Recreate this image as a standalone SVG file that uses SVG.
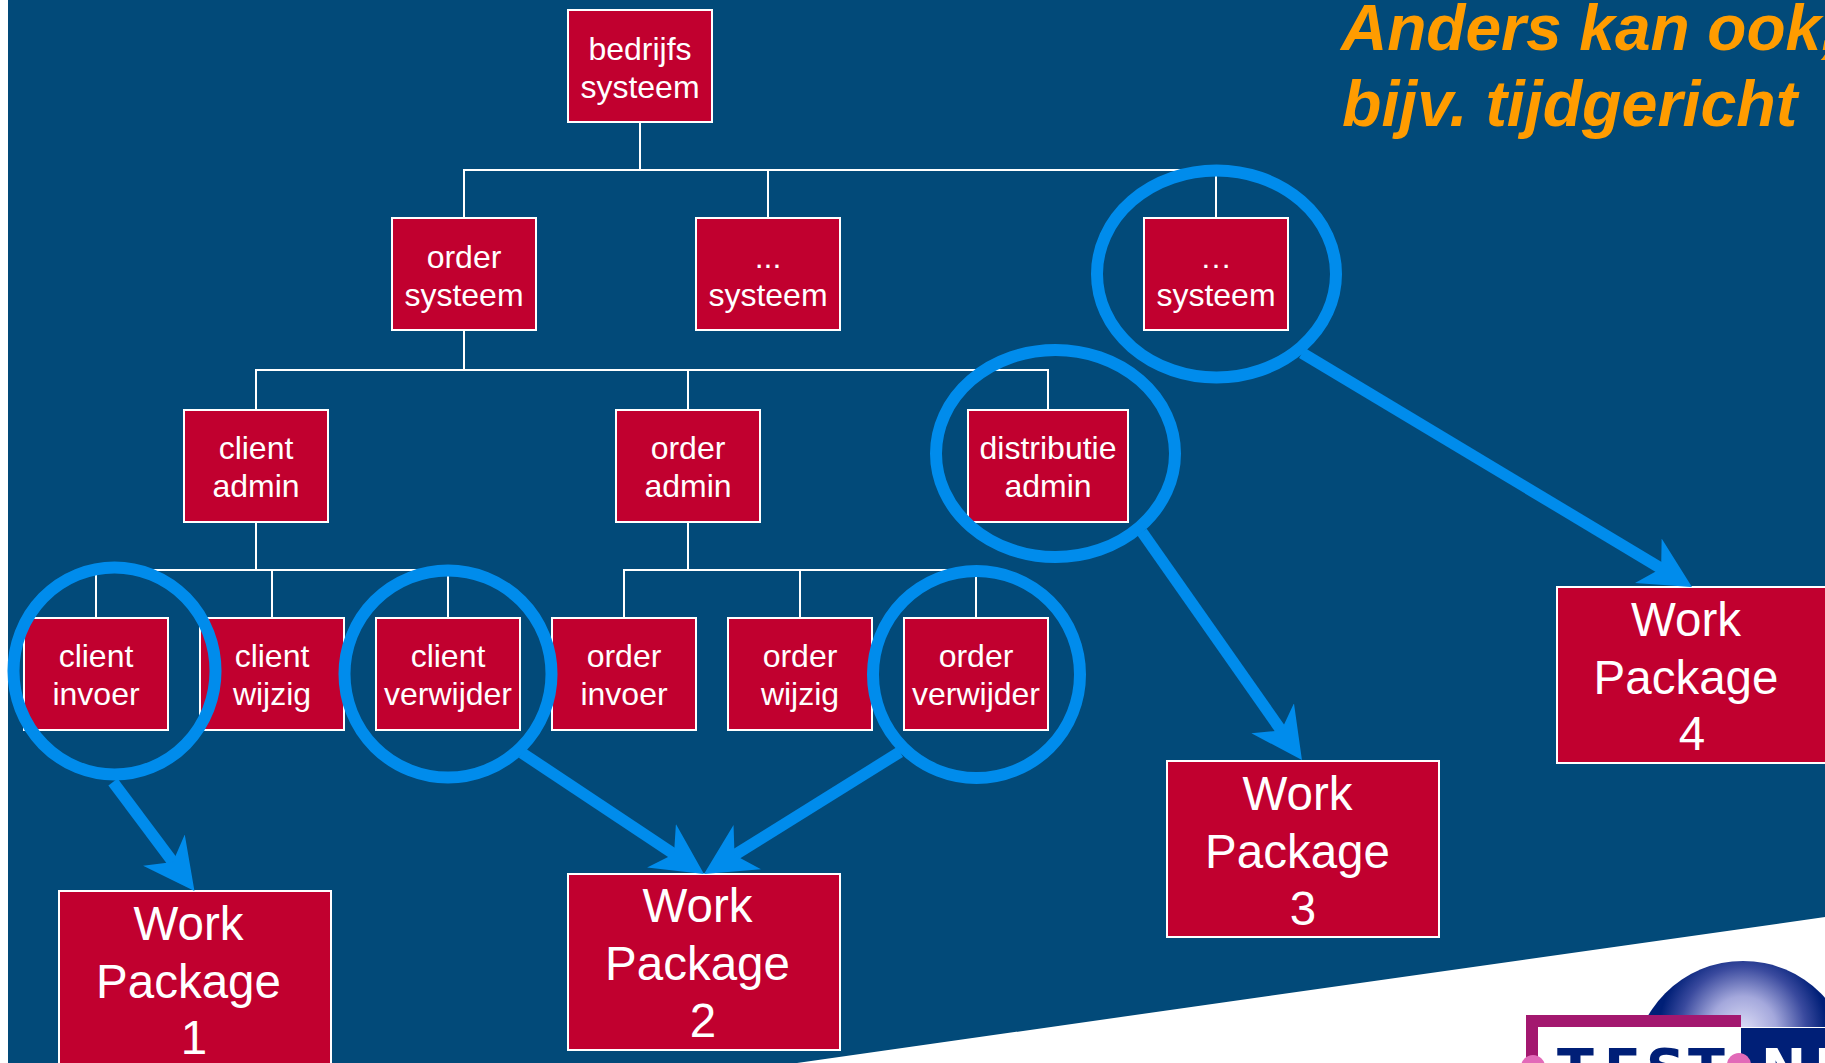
<svg xmlns="http://www.w3.org/2000/svg" width="1825" height="1063" viewBox="0 0 1825 1063">
<style>
.box{fill:#c1002f;stroke:#fff;stroke-width:2}
.t{font-family:"Liberation Sans",Arial,sans-serif;fill:#fff;text-anchor:middle;font-size:32px}
.wp{font-size:47.500px}
.tree{fill:none;stroke:#fff;stroke-width:2}
.ring{fill:none;stroke:#008cec;stroke-width:12}
.arrow{fill:none;stroke:#008cec;stroke-width:11.500;marker-end:url(#head)}
.title{font-family:"Liberation Sans",Arial,sans-serif;font-weight:bold;font-style:italic;fill:#ff9c00}
.logo{font-family:"DejaVu Sans",sans-serif;font-size:54px;font-weight:bold}
</style>
<defs>
<marker id="head" markerUnits="userSpaceOnUse" viewBox="0 0 52 54" markerWidth="52" markerHeight="54" refX="18" refY="27" orient="auto">
<path d="M51,27 L0,1 L15,27 L0,53 Z" fill="#008cec"/>
</marker>
<radialGradient id="sphere" gradientUnits="userSpaceOnUse" cx="1743" cy="1030" r="84">
<stop offset="0" stop-color="#dcdcf6"/>
<stop offset="0.4" stop-color="#a4a8dc"/>
<stop offset="0.75" stop-color="#3a4a9e"/>
<stop offset="1" stop-color="#001f77"/>
</radialGradient>
</defs>
<rect x="0" y="0" width="1825" height="1063" fill="#fff"/>
<rect x="8" y="0" width="1817" height="1063" fill="#024a79"/>
<polygon points="797,1063 1825,917 1825,1063" fill="#fff"/>
<g id="logo">
<circle cx="1743" cy="1071" r="110" fill="url(#sphere)"/>
<rect x="1538" y="1027" width="287" height="36" fill="#fff"/>
<rect x="1741" y="1028" width="84" height="35" fill="#001f77"/>
<path d="M1526,1063 V1015 H1741 V1027 H1538 V1063 Z" fill="#a3186f"/>
<text class="logo" fill="#001f77" x="1557 1604 1646 1688" y="1087">TEST</text>
<text class="logo" fill="#fff" x="1761 1814" y="1087">NE</text>
<circle cx="1533" cy="1067" r="12" fill="#e26ab8"/>
<circle cx="1739" cy="1065" r="12" fill="#e26ab8"/>
</g>
<g id="title">
<text class="title" font-size="64" x="1341" y="50">Anders kan ook,</text>
<text class="title" font-size="64.500" x="1342" y="126">bijv. tijdgericht</text>
</g>
<g id="connectors">
<path class="tree" d="M640,122V170M464,218V170H1216V218M768,170V218"/>
<path class="tree" d="M464,330V370M256,410V370H1048V410M688,370V410"/>
<path class="tree" d="M256,522V570M96,618V570H448V618M272,570V618"/>
<path class="tree" d="M688,522V570M624,618V570H976V618M800,570V618"/>
</g>
<g id="n-bedrijfs"><rect class="box" x="568" y="10" width="144" height="112"/><text class="t" x="640" y="60">bedrijfs</text><text class="t" x="640" y="98">systeem</text></g>
<g id="n-order-systeem"><rect class="box" x="392" y="218" width="144" height="112"/><text class="t" x="464" y="267.500">order</text><text class="t" x="464" y="306">systeem</text></g>
<g id="n-dots-systeem"><rect class="box" x="696" y="218" width="144" height="112"/><text class="t" x="768" y="267.500">...</text><text class="t" x="768" y="306">systeem</text></g>
<g id="n-ellipsis-systeem"><rect class="box" x="1144" y="218" width="144" height="112"/><text class="t" x="1216" y="267.500">…</text><text class="t" x="1216" y="306">systeem</text></g>
<g id="n-client-admin"><rect class="box" x="184" y="410" width="144" height="112"/><text class="t" x="256" y="459">client</text><text class="t" x="256" y="497">admin</text></g>
<g id="n-order-admin"><rect class="box" x="616" y="410" width="144" height="112"/><text class="t" x="688" y="459">order</text><text class="t" x="688" y="497">admin</text></g>
<g id="n-distributie-admin"><rect class="box" x="968" y="410" width="160" height="112"/><text class="t" x="1048" y="459">distributie</text><text class="t" x="1048" y="497">admin</text></g>
<g id="n-client-invoer"><rect class="box" x="24" y="618" width="144" height="112"/><text class="t" x="96" y="667">client</text><text class="t" x="96" y="705">invoer</text></g>
<g id="n-client-wijzig"><rect class="box" x="200" y="618" width="144" height="112"/><text class="t" x="272" y="667">client</text><text class="t" x="272" y="705">wijzig</text></g>
<g id="n-client-verwijder"><rect class="box" x="376" y="618" width="144" height="112"/><text class="t" x="448" y="667">client</text><text class="t" x="448" y="705">verwijder</text></g>
<g id="n-order-invoer"><rect class="box" x="552" y="618" width="144" height="112"/><text class="t" x="624" y="667">order</text><text class="t" x="624" y="705">invoer</text></g>
<g id="n-order-wijzig"><rect class="box" x="728" y="618" width="144" height="112"/><text class="t" x="800" y="667">order</text><text class="t" x="800" y="705">wijzig</text></g>
<g id="n-order-verwijder"><rect class="box" x="904" y="618" width="144" height="112"/><text class="t" x="976" y="667">order</text><text class="t" x="976" y="705">verwijder</text></g>
<g id="n-wp1"><rect class="box" x="59" y="891" width="272" height="176"/><text class="t wp" x="188.500" y="940">Work</text><text class="t wp" x="188.500" y="998">Package</text><text class="t wp" x="194" y="1054">1</text></g>
<g id="n-wp2"><rect class="box" x="568" y="874" width="272" height="176"/><text class="t wp" x="697.500" y="922">Work</text><text class="t wp" x="697.500" y="980">Package</text><text class="t wp" x="703" y="1037">2</text></g>
<g id="n-wp3"><rect class="box" x="1167" y="761" width="272" height="176"/><text class="t wp" x="1297.500" y="810">Work</text><text class="t wp" x="1297.500" y="868">Package</text><text class="t wp" x="1303" y="925">3</text></g>
<g id="n-wp4"><rect class="box" x="1557" y="587" width="272" height="176"/><text class="t wp" x="1686" y="636">Work</text><text class="t wp" x="1686" y="694">Package</text><text class="t wp" x="1692" y="750">4</text></g>
<g id="highlights">
<ellipse class="ring" cx="114.500" cy="671" rx="101" ry="103.500"/>
<ellipse class="ring" cx="448" cy="674" rx="103.500" ry="103.500"/>
<ellipse class="ring" cx="976.500" cy="674.500" rx="103.500" ry="103.500"/>
<ellipse class="ring" cx="1055.500" cy="453.500" rx="119.500" ry="103.500"/>
<ellipse class="ring" cx="1216.500" cy="274" rx="119.500" ry="103.500"/>
</g>
<g id="arrows">
<path class="arrow" d="M113,782L174.700,864.500"/>
<path class="arrow" d="M522,753L676.500,855.700"/>
<path class="arrow" d="M900,752L732,856.600"/>
<path class="arrow" d="M1142,532L1283,733"/>
<path class="arrow" d="M1302,353L1663.700,570"/>
</g>
</svg>
